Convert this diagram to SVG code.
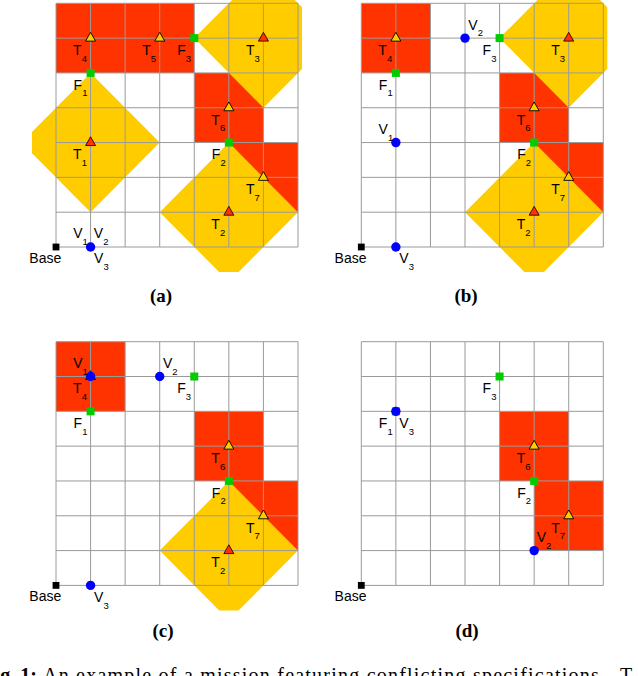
<svg xmlns="http://www.w3.org/2000/svg" xmlns:xlink="http://www.w3.org/1999/xlink" width="638" height="676" viewBox="0 0 638 676">
<style>
.lbl{font-family:"Liberation Sans",Arial,sans-serif;font-size:14px;fill:#000}
.sub{font-size:9.5px}
.grid{fill:none;stroke:#9a9a9a;stroke-width:1}
.red{fill:#ff3300}
.yel{fill:#ffcc00}
.cap{font-family:"Liberation Serif","Times New Roman",serif;font-size:19px;font-weight:bold;text-anchor:middle;fill:#000}
.fig{font-family:"Liberation Serif","Times New Roman",serif;font-size:20px;fill:#000}
</style>
<defs>
<path id="grid" class="grid" d="M0,0V243.7M34.57,0V243.7M69.14,0V243.7M103.71,0V243.7M138.28,0V243.7M172.85,0V243.7M207.42,0V243.7M242,0V243.7M0,0H242M0,34.81H242M0,69.63H242M0,104.44H242M0,139.26H242M0,174.07H242M0,208.89H242M0,243.7H242"/>
<path id="triY" d="M0,-5.8L5,3L-5,3Z" fill="#ffcc00" stroke="#000" stroke-width="0.9"/>
<path id="triR" d="M0,-5.8L5,3L-5,3Z" fill="#ff3300" stroke="#330000" stroke-width="0.9"/>
<rect id="sqG" x="-4" y="-4" width="8" height="8" fill="#00cc00"/>
<circle id="dotB" r="4.7" fill="#0000ff"/>
<rect id="sqK" x="-3.4" y="-3.4" width="6.8" height="6.8" fill="#000"/>
<polygon id="dT3" class="yel" points="138.28,34.81 207.42,-34.81 276.56,34.81 207.42,104.44"/>
<polygon id="dT1" class="yel" points="-34.57,139.26 34.57,69.63 103.71,139.26 34.57,208.89"/>
<polygon id="dT2" class="yel" points="103.71,208.89 172.85,139.26 241.99,208.89 172.85,278.52"/>
<rect id="R1a" class="red" x="0" y="0" width="138.28" height="69.63"/>
<rect id="R1b" class="red" x="0" y="0" width="69.14" height="69.63"/>
<rect id="R2" class="red" x="138.28" y="69.63" width="69.14" height="69.63"/>
<rect id="R3" class="red" x="172.85" y="139.26" width="69.15" height="69.63"/>
<clipPath id="clipP" clipPathUnits="userSpaceOnUse"><rect x="-24" y="-3.3" width="270" height="272"/></clipPath>
</defs>

<!-- Panel (a) -->
<g id="panel-a" transform="translate(56,3.3)">
  <g clip-path="url(#clipP)">
    <use href="#R1a"/><use href="#R2"/><use href="#R3"/>
    <use href="#dT3"/><use href="#dT1"/><use href="#dT2"/>
  </g>
  <use href="#grid"/>
  <g id="a-T4"><use href="#triY" x="34.57" y="34.81"/><text class="lbl" x="17.07" y="51.61">T<tspan class="sub" dy="6.7">4</tspan></text></g>
  <g id="a-T5"><use href="#triY" x="103.71" y="34.81"/><text class="lbl" x="86.21" y="51.61">T<tspan class="sub" dy="6.7">5</tspan></text></g>
  <g id="a-F3"><use href="#sqG" x="138.28" y="34.81"/><text class="lbl" x="121.28" y="51.61">F<tspan class="sub" dy="6.7">3</tspan></text></g>
  <g id="a-T3"><use href="#triR" x="207.42" y="34.81"/><text class="lbl" x="189.92" y="51.61">T<tspan class="sub" dy="6.7">3</tspan></text></g>
  <g id="a-F1"><use href="#sqG" x="34.57" y="69.63"/><text class="lbl" x="17.57" y="86.43">F<tspan class="sub" dy="6.7">1</tspan></text></g>
  <g id="a-T6"><use href="#triY" x="172.85" y="104.44"/><text class="lbl" x="155.35" y="121.24">T<tspan class="sub" dy="6.7">6</tspan></text></g>
  <g id="a-T1"><use href="#triR" x="34.57" y="139.26"/><text class="lbl" x="17.07" y="156.06">T<tspan class="sub" dy="6.7">1</tspan></text></g>
  <g id="a-F2"><use href="#sqG" x="172.85" y="139.26"/><text class="lbl" x="155.85" y="156.06">F<tspan class="sub" dy="6.7">2</tspan></text></g>
  <g id="a-T7"><use href="#triY" x="207.42" y="174.07"/><text class="lbl" x="189.92" y="190.87">T<tspan class="sub" dy="6.7">7</tspan></text></g>
  <g id="a-T2"><use href="#triR" x="172.85" y="208.89"/><text class="lbl" x="155.35" y="225.69">T<tspan class="sub" dy="6.7">2</tspan></text></g>
  <g id="a-Base"><use href="#sqK" x="0" y="243.7"/><text class="lbl" x="-26.7" y="259.7">Base</text></g>
  <g id="a-V"><use href="#dotB" x="34.57" y="243.7"/>
    <text class="lbl" x="17.27" y="235.2">V<tspan class="sub" dy="6.7">1</tspan></text>
    <text class="lbl" x="37.87" y="235.2">V<tspan class="sub" dy="6.7">2</tspan></text>
    <text class="lbl" x="38.07" y="260.2">V<tspan class="sub" dy="6.7">3</tspan></text></g>
</g>
<text class="cap" x="161" y="302">(a)</text>

<!-- Panel (b) -->
<g id="panel-b" transform="translate(361.3,3.3)">
  <g clip-path="url(#clipP)">
    <use href="#R1b"/><use href="#R2"/><use href="#R3"/>
    <use href="#dT3"/><use href="#dT2"/>
  </g>
  <use href="#grid"/>
  <g id="b-T4"><use href="#triY" x="34.57" y="34.81"/><text class="lbl" x="17.07" y="51.61">T<tspan class="sub" dy="6.7">4</tspan></text></g>
  <g id="b-V2"><use href="#dotB" x="103.71" y="34.81"/><text class="lbl" x="107.01" y="26.31">V<tspan class="sub" dy="6.7">2</tspan></text></g>
  <g id="b-F3"><use href="#sqG" x="138.28" y="34.81"/><text class="lbl" x="121.28" y="51.61">F<tspan class="sub" dy="6.7">3</tspan></text></g>
  <g id="b-T3"><use href="#triR" x="207.42" y="34.81"/><text class="lbl" x="189.92" y="51.61">T<tspan class="sub" dy="6.7">3</tspan></text></g>
  <g id="b-F1"><use href="#sqG" x="34.57" y="69.63"/><text class="lbl" x="17.57" y="86.43">F<tspan class="sub" dy="6.7">1</tspan></text></g>
  <g id="b-T6"><use href="#triY" x="172.85" y="104.44"/><text class="lbl" x="155.35" y="121.24">T<tspan class="sub" dy="6.7">6</tspan></text></g>
  <g id="b-V1"><use href="#dotB" x="34.57" y="139.26"/><text class="lbl" x="17.27" y="130.76">V<tspan class="sub" dy="6.7">1</tspan></text></g>
  <g id="b-F2"><use href="#sqG" x="172.85" y="139.26"/><text class="lbl" x="155.85" y="156.06">F<tspan class="sub" dy="6.7">2</tspan></text></g>
  <g id="b-T7"><use href="#triY" x="207.42" y="174.07"/><text class="lbl" x="189.92" y="190.87">T<tspan class="sub" dy="6.7">7</tspan></text></g>
  <g id="b-T2"><use href="#triR" x="172.85" y="208.89"/><text class="lbl" x="155.35" y="225.69">T<tspan class="sub" dy="6.7">2</tspan></text></g>
  <g id="b-Base"><use href="#sqK" x="0" y="243.7"/><text class="lbl" x="-26.7" y="259.7">Base</text></g>
  <g id="b-V3"><use href="#dotB" x="34.57" y="243.7"/><text class="lbl" x="38.07" y="260.2">V<tspan class="sub" dy="6.7">3</tspan></text></g>
</g>
<text class="cap" x="466" y="302">(b)</text>

<!-- Panel (c) -->
<g id="panel-c" transform="translate(56,341.7)">
  <g clip-path="url(#clipP)">
    <use href="#R1b"/><use href="#R2"/><use href="#R3"/>
    <use href="#dT2"/>
  </g>
  <use href="#grid"/>
  <g id="c-T4"><use href="#triY" x="34.57" y="34.81"/><text class="lbl" x="17.07" y="51.61">T<tspan class="sub" dy="6.7">4</tspan></text></g>
  <g id="c-V1"><use href="#dotB" x="34.57" y="34.81"/><text class="lbl" x="17.27" y="26.31">V<tspan class="sub" dy="6.7">1</tspan></text></g>
  <g id="c-V2"><use href="#dotB" x="103.71" y="34.81"/><text class="lbl" x="107.01" y="26.31">V<tspan class="sub" dy="6.7">2</tspan></text></g>
  <g id="c-F3"><use href="#sqG" x="138.28" y="34.81"/><text class="lbl" x="121.28" y="51.61">F<tspan class="sub" dy="6.7">3</tspan></text></g>
  <g id="c-F1"><use href="#sqG" x="34.57" y="69.63"/><text class="lbl" x="17.57" y="86.43">F<tspan class="sub" dy="6.7">1</tspan></text></g>
  <g id="c-T6"><use href="#triY" x="172.85" y="104.44"/><text class="lbl" x="155.35" y="121.24">T<tspan class="sub" dy="6.7">6</tspan></text></g>
  <g id="c-F2"><use href="#sqG" x="172.85" y="139.26"/><text class="lbl" x="155.85" y="156.06">F<tspan class="sub" dy="6.7">2</tspan></text></g>
  <g id="c-T7"><use href="#triY" x="207.42" y="174.07"/><text class="lbl" x="189.92" y="190.87">T<tspan class="sub" dy="6.7">7</tspan></text></g>
  <g id="c-T2"><use href="#triR" x="172.85" y="208.89"/><text class="lbl" x="155.35" y="225.69">T<tspan class="sub" dy="6.7">2</tspan></text></g>
  <g id="c-Base"><use href="#sqK" x="0" y="243.7"/><text class="lbl" x="-26.7" y="259.7">Base</text></g>
  <g id="c-V3"><use href="#dotB" x="34.57" y="243.7"/><text class="lbl" x="38.07" y="260.2">V<tspan class="sub" dy="6.7">3</tspan></text></g>
</g>
<text class="cap" x="163" y="637">(c)</text>

<!-- Panel (d) -->
<g id="panel-d" transform="translate(361.3,341.7)">
  <g clip-path="url(#clipP)">
    <use href="#R2"/><use href="#R3"/>
  </g>
  <use href="#grid"/>
  <g id="d-F3"><use href="#sqG" x="138.28" y="34.81"/><text class="lbl" x="121.28" y="51.61">F<tspan class="sub" dy="6.7">3</tspan></text></g>
  <g id="d-F1"><use href="#sqG" x="34.57" y="69.63"/><text class="lbl" x="17.57" y="86.43">F<tspan class="sub" dy="6.7">1</tspan></text></g>
  <g id="d-V3"><use href="#dotB" x="34.57" y="69.63"/><text class="lbl" x="38.07" y="86.43">V<tspan class="sub" dy="6.7">3</tspan></text></g>
  <g id="d-T6"><use href="#triY" x="172.85" y="104.44"/><text class="lbl" x="155.35" y="121.24">T<tspan class="sub" dy="6.7">6</tspan></text></g>
  <g id="d-F2"><use href="#sqG" x="172.85" y="139.26"/><text class="lbl" x="155.85" y="156.06">F<tspan class="sub" dy="6.7">2</tspan></text></g>
  <g id="d-T7"><use href="#triY" x="207.42" y="174.07"/><text class="lbl" x="189.92" y="190.87">T<tspan class="sub" dy="6.7">7</tspan></text></g>
  <g id="d-V2"><use href="#dotB" x="172.85" y="208.89"/><text class="lbl" x="175.35" y="200.39">V<tspan class="sub" dy="6.7">2</tspan></text></g>
  <g id="d-Base"><use href="#sqK" x="0" y="243.7"/><text class="lbl" x="-26.7" y="259.7">Base</text></g>
</g>
<text class="cap" x="467" y="637">(d)</text>

<g id="connectors"/>

<text class="fig" x="-17.5" y="681.5"><tspan font-weight="bold">Fig. 1:</tspan></text>
<text class="fig" x="43" y="681.5" textLength="562" lengthAdjust="spacing">An example of a mission featuring conflicting specifications.</text>
<text class="fig" x="620" y="681.5">T</text>
</svg>
